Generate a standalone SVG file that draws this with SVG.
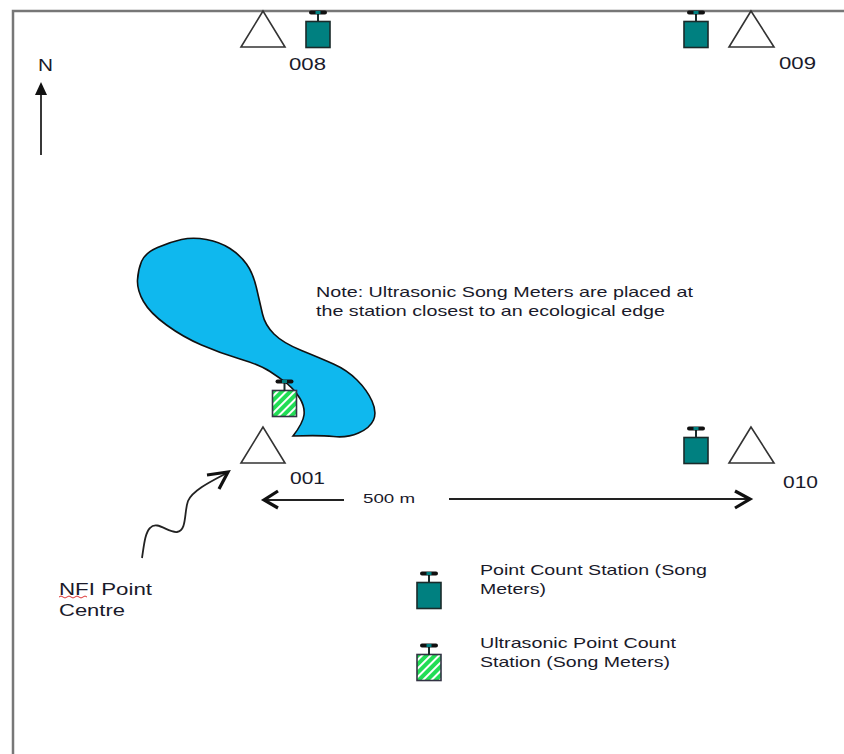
<svg xmlns="http://www.w3.org/2000/svg" width="844" height="754" viewBox="0 0 844 754">
<style>
text{font-family:"Liberation Sans",Arial,sans-serif;fill:#1a1a2a}
.s{font-size:14.5px}
.l{font-size:17px}
.tri{fill:#fff;stroke:#333;stroke-width:1.6}
.line{fill:none;stroke:#222;stroke-width:1.8}
.head{fill:none;stroke:#111;stroke-width:3.2}
</style>
<defs>
<pattern id="h" width="6" height="6" patternUnits="userSpaceOnUse" patternTransform="rotate(45)">
<rect width="6" height="6" fill="#fff"/><rect width="4" height="6" fill="#22dd55"/>
</pattern>
<g id="teal">
<rect x="-12" y="-12.5" width="24" height="26" fill="#008080" stroke="#1a2a2a" stroke-width="1.6"/>
<path d="M0-12V-21" stroke="#1a2a2a" stroke-width="2"/>
<path d="M-7-21.5H7" stroke="#111" stroke-width="4" stroke-linecap="round"/>
<rect x="-2.5" y="-23" width="5" height="3" fill="#008080"/>
</g>
<g id="hatch">
<rect x="-12" y="-12.5" width="24" height="26" fill="url(#h)" stroke="#334" stroke-width="1.6"/>
<path d="M0-12V-21" stroke="#1a2a2a" stroke-width="2"/>
<path d="M-7-21.5H7" stroke="#111" stroke-width="4" stroke-linecap="round"/>
<rect x="-2.5" y="-23" width="5" height="3" fill="#008080"/>
</g>
</defs>
<rect width="844" height="754" fill="#fff"/>
<path d="M13 754V11H844" fill="none" stroke="#777" stroke-width="2.5"/>
<g id="lake"><path d="M157.5 247.5Q170 242 181.5 239.5Q193 237 206.5 239.5Q220 242 230 248.5Q240 255 246.5 264Q253 273 256.5 288Q260 303 262.5 314Q265 325 274 334Q283 343 301.5 350.5Q320 358 333.5 364Q347 370 357 380Q367 390 372 401Q377 412 373.5 420Q370 428 358.5 433Q347 438 333.5 436.5Q320 435 293 436Q303 423 304 415Q305 407 300 398.5Q295 390 287.5 384Q280 378 270 371.5Q260 365 240 359Q220 353 201.5 345Q183 337 166.5 325Q150 313 143.5 301.5Q137 290 137.5 280Q138 270 141.5 261.5Q145 253 157.5 247.5Z" fill="#0fb8ee" stroke="#111" stroke-width="1.6"/></g>
<g id="node-008"><polygon class="tri" points="263,11 241,47 285,47"/><use href="#teal" x="318" y="34"/><text class="l" x="289" y="70" textLength="37" lengthAdjust="spacingAndGlyphs">008</text></g>
<g id="node-009"><polygon class="tri" points="751,11 729,47 774,47"/><use href="#teal" x="696" y="34"/><text class="l" x="779" y="69" textLength="37" lengthAdjust="spacingAndGlyphs">009</text></g>
<g id="node-001"><polygon class="tri" points="263,427 241,463 285,463"/><use href="#hatch" x="284.5" y="403"/><text class="l" x="290" y="484" textLength="35" lengthAdjust="spacingAndGlyphs">001</text></g>
<g id="node-010"><polygon class="tri" points="751,427 729,463 774,463"/><use href="#teal" x="696" y="450"/><text class="l" x="783" y="488" textLength="35" lengthAdjust="spacingAndGlyphs">010</text></g>
<g id="connectors">
<path class="line" d="M41 155V92"/><path d="M41 82L47 95H35Z" fill="#111"/>
<path class="line" d="M142 558C144 545 145 533 150 528C157 520 168 533 177 532C187 531 184 512 188 501C193 490 212 481 227 473"/>
<path class="head" d="M207 475L228 472L219 489"/>
<path class="line" d="M266 500H344"/><path class="head" d="M278 491L264 500L278 508"/>
<path class="line" d="M449 499H749"/><path class="head" d="M735 491L750 499L735 508"/>
</g>
<text id="north" x="38" y="71" style="font-size:17px" textLength="15" lengthAdjust="spacingAndGlyphs">N</text>
<g id="note"><text class="s" x="316" y="297" textLength="377" lengthAdjust="spacingAndGlyphs">Note: Ultrasonic Song Meters are placed at</text><text class="s" x="316" y="316" textLength="349" lengthAdjust="spacingAndGlyphs">the station closest to an ecological edge</text></g>
<text id="dist" x="363" y="503" style="font-size:13.5px" textLength="52" lengthAdjust="spacingAndGlyphs">500 m</text>
<g id="nfi"><text class="l" x="59" y="595" textLength="93" lengthAdjust="spacingAndGlyphs">NFI Point</text><text class="l" x="59" y="616" textLength="66" lengthAdjust="spacingAndGlyphs">Centre</text><path d="M59 597q2 -2 4 0t4 0t4 0t4 0t4 0t4 0t4 0" fill="none" stroke="#d33" stroke-width="1"/></g>
<g id="legend-teal"><use href="#teal" x="429" y="595"/><text class="s" x="480" y="575" textLength="227" lengthAdjust="spacingAndGlyphs">Point Count Station (Song</text><text class="s" x="480" y="594" textLength="66" lengthAdjust="spacingAndGlyphs">Meters)</text></g>
<g id="legend-hatch"><use href="#hatch" x="429" y="667"/><text class="s" x="480" y="648" textLength="196" lengthAdjust="spacingAndGlyphs">Ultrasonic Point Count</text><text class="s" x="480" y="667" textLength="190" lengthAdjust="spacingAndGlyphs">Station (Song Meters)</text></g>
</svg>
